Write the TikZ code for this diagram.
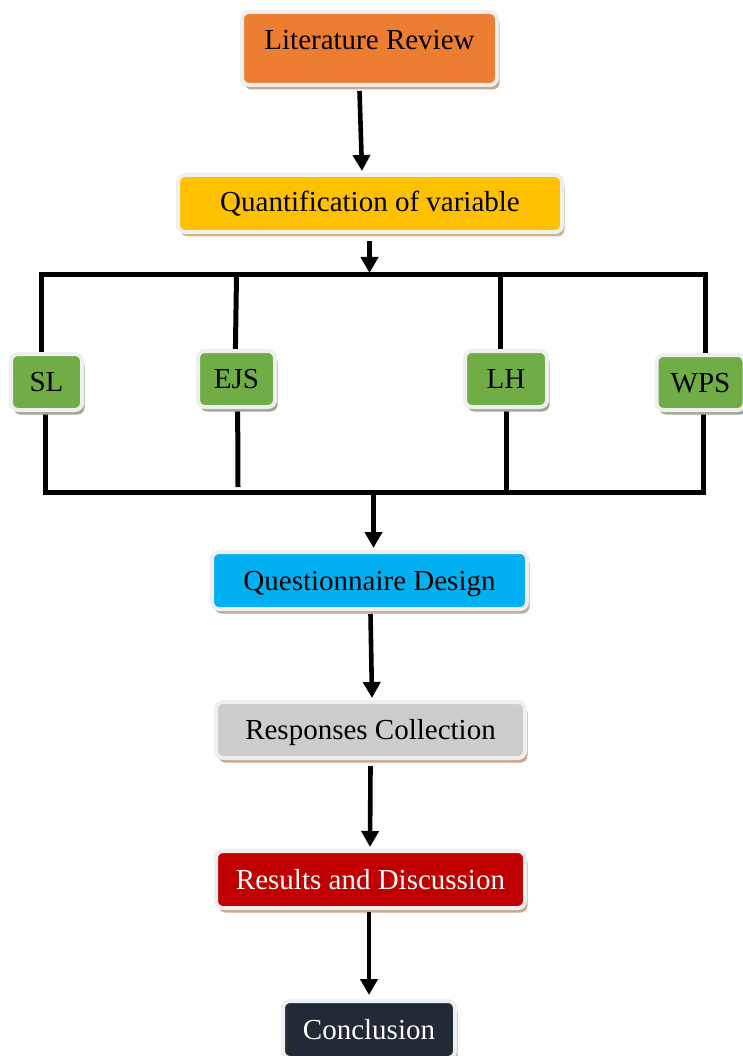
\documentclass[tikz,border=0pt]{standalone}
\usepackage{fontspec}
\setmainfont{Liberation Serif}
\usetikzlibrary{arrows.meta,shadows,backgrounds}

\definecolor{rim}{HTML}{EFEFEF}
\definecolor{shtan}{HTML}{C9A68E}
\definecolor{shkhaki}{HTML}{C8B98E}
\definecolor{shgreen}{HTML}{9EAA90}
\definecolor{cOrange}{HTML}{ED7D31}
\definecolor{cYellow}{HTML}{FFC000}
\definecolor{cGreen}{HTML}{70AD47}
\definecolor{cBlue}{HTML}{00B0F0}
\definecolor{cGray}{HTML}{CDCDCD}
\definecolor{cRed}{HTML}{C00000}
\definecolor{cNavy}{HTML}{222A35}

\tikzset{
  box/.style={draw=rim, line width=4pt, rounded corners=7pt, inner sep=0pt,
    font=\fontsize{29}{33}\selectfont, text height=19.2pt, text depth=0pt,
    drop shadow={shadow xshift=2.5pt, shadow yshift=-4.5pt, fill=#1, opacity=1}},
  box/.default=shtan,
  arr/.style={line width=4.6pt, -{Triangle[width=17pt,length=16pt]}},
  frame/.style={line width=5pt}
}

\begin{document}
\begin{tikzpicture}[x=1pt,y=-1pt]
\useasboundingbox (0,0) rectangle (743,1056);
\clip (0,0) rectangle (743,1056);

% process steps
\node[box, fill=cOrange, minimum width=255pt, minimum height=73pt, text depth=17pt]
  (lit) at (369.5,48.5) {Literature Review};
\node[box=shkhaki, fill=cYellow, minimum width=384pt, minimum height=57pt, text depth=3pt]
  (quant) at (370,203.5) {Quantification of variable};

% the four variables
\node[box=shgreen, fill=cGreen, minimum width=71pt, minimum height=56pt] (sl) at (46.5,382) {SL};
\node[box=shgreen, fill=cGreen, minimum width=77pt, minimum height=56pt] (ejs) at (236.5,379) {EJS};
\node[box=shgreen, fill=cGreen, minimum width=82pt, minimum height=56pt] (lh) at (506,379) {LH};
\node[box=shgreen, fill=cGreen, minimum width=88pt, minimum height=55pt] (wps) at (700.5,382.5) {WPS};

\node[box, fill=cBlue, minimum width=315pt, minimum height=57pt] (qd) at (369.5,580.5) {Questionnaire Design};
\node[box, fill=cGray, minimum width=309pt, minimum height=56pt] (rc) at (370.5,730) {Responses Collection};
\node[box, fill=cRed, minimum width=309pt, minimum height=57pt, text=white] (rd) at (370.5,879.5) {Results and Discussion};
\node[box, fill=cNavy, minimum width=172pt, minimum height=57pt, text=white] (con) at (369,1029.5) {Conclusion};

% frame joining the variables
\coordinate (ftl) at (41.5,274.5);
\coordinate (ftr) at (705,274.5);
\coordinate (fbl) at (45,492.5);
\coordinate (fbr) at (703,492.5);
\coordinate (ejsEnd) at (238,487);
\begin{scope}[on background layer]
  \draw[frame] (sl.center -| ftl) -- (ftl) -- (ftr) -- (wps.center -| ftr);
  \draw[frame] (sl.center -| fbl) -- (fbl) -- (fbr) -- (wps.center -| fbr);
  \draw[frame] (ejs.center |- ftl) -- ([xshift=-1.5pt]ejs.center);
  \draw[frame] ([xshift=1pt]ejs.center) -- (ejsEnd);
  \draw[frame] ([xshift=-5.5pt]lh.center |- ftl) -- ([xshift=-5.5pt]lh.center);
  \draw[frame] (lh.center) -- (lh.center |- fbl);
\end{scope}

% arrows
\coordinate (qTop) at (369.5,273);
\coordinate (fOut) at (373.5,495);
\draw[arr] ([xshift=-10pt,yshift=-4pt]lit.south) -- ([xshift=-8pt,yshift=2pt]quant.north);
\draw[arr] ([xshift=-0.5pt,yshift=-7pt]quant.south) -- (qTop);
\draw[arr] (fOut) -- ([xshift=4pt,yshift=2pt]qd.north);
\draw[arr] ([xshift=1pt,yshift=-3pt]qd.south) -- ([xshift=1.5pt,yshift=2pt]rc.north);
\draw[arr] ([xshift=0pt,yshift=-6pt]rc.south) -- ([xshift=-0.5pt,yshift=2pt]rd.north);
\draw[arr] ([xshift=-1.5pt,yshift=-2pt]rd.south) -- ([xshift=0pt,yshift=4pt]con.north);
\end{tikzpicture}
\end{document}
